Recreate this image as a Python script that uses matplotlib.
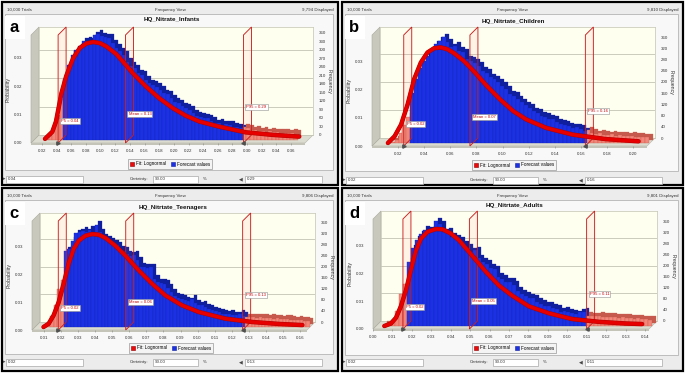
import matplotlib
matplotlib.use("Agg")
import matplotlib.pyplot as plt
from matplotlib.patches import Rectangle, Polygon, Patch
from matplotlib.transforms import offset_copy

plt.rcParams["font.family"] = ["Liberation Sans", "DejaVu Sans"]

W, H = 685, 373

# ---------------- data ----------------
letters = ["a", "b", "c", "d"]
titles = ["HQ_Nitrate_Infants", "HQ_Nitrtate_Children",
          "HQ_Nitrtate_Teenagers", "HQ_Nitrtate_Adults"]
displayed = ["9,794 Displayed", "9,810 Displayed", "9,806 Displayed", "9,801 Displayed"]
trials = 10000
certainty = "90.00"

# histogram: first bin edge, bin width, counts per bin
bin_start = [0.020, 0.009, 0.008, 0.004]
bin_width = [0.005, 0.003, 0.002, 0.002]
freq_a = [5, 15, 40, 75, 145, 215, 265, 300, 318, 324, 347, 350, 347, 368, 373, 365, 361, 359,
          341, 324, 312, 300, 276, 262, 253, 235, 229, 212, 200, 194, 188, 176, 165, 161, 147,
          135, 129, 118, 114, 106, 94, 86, 82, 79, 76, 67, 59, 61, 53, 55, 53, 47, 44, 41, 44,
          41, 35, 36, 30, 32, 28, 30, 27, 28, 25, 26, 24, 25, 22]
freq_b = [3, 5, 12, 36, 66, 93, 180, 228, 266, 293, 311, 329, 353, 365, 377, 359, 341, 347,
          329, 323, 299, 293, 287, 275, 257, 251, 234, 228, 216, 204, 192, 174, 168, 156, 146,
          134, 126, 114, 108, 98, 93, 86, 84, 74, 69, 66, 60, 54, 57, 50, 42, 45, 36, 32, 34,
          30, 28, 31, 26, 27, 25, 24, 26, 22, 23, 21, 20]
freq_c = [2, 12, 38, 81, 138, 168, 275, 281, 311, 338, 342, 347, 342, 350, 338, 369, 341, 321,
          316, 307, 302, 295, 278, 275, 263, 257, 261, 240, 218, 216, 213, 216, 174, 162, 160,
          156, 141, 126, 110, 105, 102, 96, 93, 102, 86, 79, 81, 72, 66, 60, 57, 54, 48, 46, 48,
          42, 43, 48, 41, 36, 36, 35, 34, 35, 33, 32, 34, 30, 31, 28, 30, 29, 27, 25, 26, 24,
          22, 20]
freq_d = [4, 8, 15, 55, 116, 152, 232, 280, 311, 332, 348, 344, 348, 378, 368, 339, 341, 323,
          317, 307, 295, 283, 268, 274, 244, 232, 224, 210, 205, 177, 171, 159, 159, 149, 128,
          116, 110, 102, 100, 88, 80, 73, 73, 66, 63, 51, 55, 49, 46, 43, 49, 51, 37, 36, 35,
          37, 34, 33, 34, 31, 30, 31, 29, 28, 27, 28, 25, 24, 22]

# lognormal fit curve (value, probability)
fit_a_x = [0.020, 0.030, 0.035, 0.0425, 0.049, 0.0585, 0.0676, 0.0767, 0.0858, 0.0948, 0.104,
           0.1175, 0.131, 0.140, 0.158, 0.176, 0.1946, 0.2127, 0.231, 0.258, 0.294, 0.331, 0.367]
fit_a_p = [0.0004, 0.0029, 0.0065, 0.0165, 0.0225, 0.0288, 0.0324, 0.034, 0.0345, 0.0341,
           0.0329, 0.0302, 0.0262, 0.0235, 0.0188, 0.0147, 0.0112, 0.0085, 0.0065, 0.0047,
           0.0027, 0.0018, 0.0012]
fit_b_x = [0.0099, 0.015, 0.020, 0.025, 0.030, 0.0351, 0.0402, 0.0452, 0.0503, 0.0553, 0.0604,
           0.068, 0.0755, 0.0856, 0.0957, 0.1058, 0.1159, 0.1311, 0.1513, 0.1765, 0.2018]
fit_b_p = [0.0, 0.0024, 0.0066, 0.0138, 0.0228, 0.0287, 0.0323, 0.0338, 0.0341, 0.0335, 0.0321,
           0.0293, 0.0257, 0.0204, 0.0156, 0.0114, 0.0084, 0.0054, 0.003, 0.0014, 0.0006]
fit_c_x = [0.008, 0.011, 0.0139, 0.0169, 0.0198, 0.0227, 0.0256, 0.0286, 0.0325, 0.0364, 0.0403,
           0.0443, 0.0501, 0.056, 0.0638, 0.0716, 0.0794, 0.0892, 0.099, 0.1146, 0.1303, 0.1459,
           0.1596]
fit_c_p = [0.0, 0.0012, 0.0042, 0.009, 0.0156, 0.0228, 0.0281, 0.0311, 0.0329, 0.0335, 0.0333,
           0.0321, 0.0293, 0.0257, 0.0204, 0.0156, 0.0114, 0.0078, 0.0054, 0.003, 0.0018, 0.0011,
           0.0007]
fit_d_x = [0.0043, 0.0077, 0.0103, 0.0128, 0.0154, 0.018, 0.0205, 0.0231, 0.0265, 0.0308, 0.0342,
           0.0385, 0.0428, 0.0496, 0.0565, 0.0633, 0.0702, 0.0787, 0.089, 0.101, 0.1147, 0.1284,
           0.1369]
fit_d_p = [0.0, 0.0009, 0.003, 0.0071, 0.0128, 0.0203, 0.0271, 0.0315, 0.034, 0.035, 0.0349,
           0.0334, 0.0309, 0.0253, 0.0196, 0.0146, 0.0109, 0.0071, 0.0046, 0.0025, 0.0015, 0.0009,
           0.0007]

p5_vals = [0.042, 0.0243, 0.0184, 0.0154]
mean_vals = [0.134, 0.075, 0.0579, 0.0496]
p95_vals = [0.295, 0.1634, 0.1264, 0.1099]
p5_text = ["0.04", "0.02", "0.02", "0.02"]
mean_text = ["0.13", "0.07", "0.06", "0.05"]
p95_text = ["0.29", "0.16", "0.13", "0.11"]

xticks_a = [0.02, 0.04, 0.06, 0.08, 0.10, 0.12, 0.14, 0.16, 0.18, 0.20, 0.22, 0.24, 0.26,
            0.28, 0.30, 0.32, 0.34, 0.36]
xticks_b = [0.02, 0.04, 0.06, 0.08, 0.10, 0.12, 0.14, 0.16, 0.18, 0.20]
xticks_c = [0.01, 0.02, 0.03, 0.04, 0.05, 0.06, 0.07, 0.08, 0.09, 0.10, 0.11, 0.12, 0.13,
            0.14, 0.15, 0.16]
xticks_d = [0.00, 0.01, 0.02, 0.03, 0.04, 0.05, 0.06, 0.07, 0.08, 0.09, 0.10, 0.11, 0.12,
            0.13, 0.14]
prob_ticks = [0.00, 0.01, 0.02, 0.03]
freq_step = [30, 40, 40, 40]

hists = [freq_a, freq_b, freq_c, freq_d]
fits = [(fit_a_x, fit_a_p), (fit_b_x, fit_b_p), (fit_c_x, fit_c_p), (fit_d_x, fit_d_p)]
xticks = [xticks_a, xticks_b, xticks_c, xticks_d]

# ---------------- layout (pixels) ----------------
frames = [(2, 2, 338, 185), (342, 2, 683, 185), (2, 188, 338, 371), (342, 188, 683, 371)]
inner_bottom = [170, 171, 354, 355]
walls = [(39, 27, 313, 135), (380, 27, 655, 138), (40, 213, 315, 322), (381, 211, 657, 321)]
title_y = [20, 21, 207, 206]
legend_pos = [(170, 164), (514, 165), (171, 348), (514, 348)]
bottom_y = [179, 180, 362, 362]
xlims = [(0.005, 0.379), (0.0, 0.2106), (0.003, 0.1641), (0.0, 0.142)]
ptop = [0.038, 0.0396, 0.0393, 0.0397]
depth = 8

BLUE, BLUE_DK, BLUE_ED = "#1c31e4", "#0f1f9e", "#1124b0"
SALMON, SALMON_DK, SALMON_ED = "#f2877a", "#c65a4c", "#c8584a"
RED = "#e60000"
TXT = "#333333"

fig = plt.figure(figsize=(W / 100, H / 100), dpi=100)
bg = fig.add_axes([0, 0, 1, 1])
bg.set_xlim(0, W)
bg.set_ylim(H, 0)
bg.axis("off")


def fig_rect(l, t, r, b):
    return [l / W, 1 - b / H, (r - l) / W, (b - t) / H]


for i in range(4):
    x0, y0, x1, y1 = frames[i]
    L, T, R, B = walls[i]
    d = depth
    xmin, xmax = xlims[i]
    top = ptop[i]
    sx = (R - L) / (xmax - xmin)
    sy = (B - T) / top
    cx = (x0 + x1) / 2

    # panel background and header
    bg.add_patch(Rectangle((x0, y0), x1 - x0, y1 - y0, facecolor="#ececec",
                           edgecolor="black", lw=1.6, zorder=0))
    bg.text(x0 + 5, y0 + 8, f"{trials:,} Trials", fontsize=3.2, color=TXT, va="center")
    bg.text(cx, y0 + 8, "Frequency View", fontsize=3.2, color=TXT, ha="center", va="center")
    bg.text(x1 - 4, y0 + 8, displayed[i], fontsize=3.2, color=TXT, ha="right", va="center")
    bg.add_patch(Rectangle((x0 + 3, y0 + 12), x1 - x0 - 8, inner_bottom[i] - y0 - 12,
                           facecolor="#f8f8f8", edgecolor="#b4b4b4", lw=0.6, zorder=1))
    bg.text((L + R) / 2 - 4, title_y[i], titles[i], fontsize=4.5, fontweight="bold",
            ha="center", va="center", color="#111111", zorder=3)
    bg.add_patch(Rectangle((x0 + 3, y0 + 14), 20, 23, facecolor="white", edgecolor="none",
                           zorder=3))
    bg.text(x0 + 12, y0 + 25, letters[i], fontsize=12, fontweight="bold", ha="center",
            va="center", zorder=4)

    # floor and side wall of the 3D box
    bg.add_patch(Polygon([(L - d, B + d), (L, B), (R, B), (R - d, B + d)],
                         facecolor="#dcdcd0", edgecolor="#b4b4a8", lw=0.4, zorder=2))
    bg.add_patch(Rectangle((L - d, B + d), R - L, 1.5, facecolor="#c4c4b8",
                           edgecolor="none", zorder=2))
    bg.add_patch(Polygon([(L - d, T + d), (L, T), (L, B), (L - d, B + d)],
                         facecolor="#c8c8bc", edgecolor="#a8a89c", lw=0.4, zorder=2))

    # bottom controls
    by = bottom_y[i]
    bg.text(x0 + 1, by, "\u25b8", fontsize=3.5, color="#444444", ha="left", va="center",
            family=["DejaVu Sans"])
    for bx0, bx1, s in [(x0 + 4, x0 + 81, p5_text[i]), (x0 + 151, x0 + 196, certainty),
                        (x0 + 243, x0 + 320, p95_text[i])]:
        bg.add_patch(Rectangle((bx0, by - 3.5), bx1 - bx0, 7, facecolor="white",
                               edgecolor="#a8a8a8", lw=0.5, zorder=2))
        bg.text(bx0 + 2, by, s, fontsize=3.2, color=TXT, va="center", zorder=3)
    bg.text(x0 + 128, by, "Certainty:", fontsize=3.2, color=TXT, va="center")
    bg.text(x0 + 201, by, "%", fontsize=3.2, color=TXT, va="center")
    bg.text(x0 + 237, by, "\u25c0", fontsize=3.5, color="#444444", va="center",
            family=["DejaVu Sans"])

    # back wall with frequency axis
    axw = fig.add_axes(fig_rect(L, T, R, B))
    axw.set_facecolor("#fffff0")
    axw.set_xlim(0, 1)
    axw.set_ylim(0, top * trials)
    axw.set_xticks([])
    axw.yaxis.tick_right()
    axw.set_yticks(list(range(0, 361, freq_step[i])))
    axw.tick_params(axis="y", length=0, pad=4, labelsize=3.2, labelcolor=TXT)
    for s in axw.spines.values():
        s.set_color("#c4c4b4")
        s.set_linewidth(0.5)
    for g in prob_ticks[1:]:
        axw.axhline(g * trials, color="#c4c4b4", lw=0.6)
    axw.yaxis.set_label_position("right")
    axw.set_ylabel("Frequency", fontsize=3.8, rotation=270, color=TXT)
    axw.yaxis.set_label_coords((R + 16 - L) / (R - L), 0.5)
    axw.yaxis.label.set_va("center")

    # front plane: bars, fit and markers
    ax = fig.add_axes(fig_rect(L - d, T + d, R - d, B + d))
    ax.set_facecolor("none")
    for s in ax.spines.values():
        s.set_visible(False)

    counts = hists[i]
    edges = [bin_start[i] + k * bin_width[i] for k in range(len(counts))]
    probs = [c / trials for c in counts]
    tail = [(e < p5_vals[i]) or (e + bin_width[i] > p95_vals[i]) for e in edges]
    face = [SALMON if t else BLUE for t in tail]
    dark = [SALMON_DK if t else BLUE_DK for t in tail]
    edge = [SALMON_ED if t else BLUE_ED for t in tail]

    tr_bar = offset_copy(ax.transData, fig=fig, x=3, y=3, units="dots")
    tr_shadow = offset_copy(ax.transData, fig=fig, x=6.5, y=6.5, units="dots")
    ax.bar(edges, probs, width=bin_width[i], align="edge", color=dark, edgecolor=dark,
           lw=0.2, transform=tr_shadow, clip_on=False, zorder=2)
    ax.bar(edges, probs, width=bin_width[i], align="edge", color=face, edgecolor=edge,
           lw=0.25, transform=tr_bar, clip_on=False, zorder=3)

    dx = d / sx
    dy = d / sy
    lab_y = [0.0078, 0.0102, 0.0126]
    for j, (v, name, val) in enumerate([(p5_vals[i], "P5", p5_text[i]),
                                        (mean_vals[i], "Mean", mean_text[i]),
                                        (p95_vals[i], "P95", p95_text[i])]):
        ax.add_patch(Polygon([(v, 0), (v, top), (v + dx, top + dy), (v + dx, dy)],
                             closed=True, facecolor=(1, 0.4, 0.4, 0.08), edgecolor="#c82020",
                             lw=0.65, clip_on=False, zorder=5))
        ax.text(v, lab_y[j], f"{name} = {val}",
                transform=offset_copy(ax.transData, fig=fig, x=3, y=0, units="dots"),
                fontsize=3.0, color="#c00000", ha="left", va="center", zorder=8,
                bbox=dict(boxstyle="square,pad=0.25", facecolor="white",
                          edgecolor="#909090", lw=0.4))
    ax.plot([p5_vals[i]], [0], marker=">", ms=2.4, color="#505050", clip_on=False, zorder=7)
    ax.plot([p95_vals[i]], [0], marker="<", ms=2.4, color="#505050", clip_on=False, zorder=7)

    fx, fp = fits[i]
    ax.plot(fx, fp, color="#b00000", lw=3.2, transform=tr_bar, clip_on=False,
            solid_capstyle="round", solid_joinstyle="round", zorder=6)
    ax.plot(fx, fp, color=RED, lw=2.5, transform=tr_bar, clip_on=False,
            solid_capstyle="round", solid_joinstyle="round", zorder=6)

    ax.set_xlim(xmin, xmax)
    ax.set_ylim(0, top)
    ax.set_xticks(xticks[i])
    ax.set_xticklabels([f"{t:.2f}" for t in xticks[i]])
    ax.set_yticks(prob_ticks)
    ax.set_yticklabels([f"{t:.2f}" for t in prob_ticks])
    ax.tick_params(axis="x", length=1.5, width=0.4, color="#888888", pad=2.5,
                   labelsize=3.2, labelcolor=TXT)
    ax.tick_params(axis="y", length=0, pad=6, labelsize=3.2, labelcolor=TXT)
    ax.set_ylabel("Probability", fontsize=3.8, color=TXT)
    ax.yaxis.set_label_coords((L - 28 - (L - d)) / (R - L), 0.5)

    handles = [Patch(facecolor="#ee0a0a", edgecolor="#900000", lw=0.4),
               Patch(facecolor=BLUE, edgecolor=BLUE_DK, lw=0.4)]
    leg = ax.legend(handles, ["Fit: Lognormal", "Forecast values"], loc="center",
                    bbox_to_anchor=legend_pos[i], bbox_transform=bg.transData, ncol=2,
                    fontsize=3.3, frameon=True, fancybox=False, handlelength=0.9,
                    handleheight=0.9, handletextpad=0.4, columnspacing=1.0,
                    borderpad=0.45, edgecolor="#9a9a9a", facecolor="#f4f4f4", framealpha=1)
    leg.get_frame().set_linewidth(0.5)

fig.savefig("out.png", dpi=100)
